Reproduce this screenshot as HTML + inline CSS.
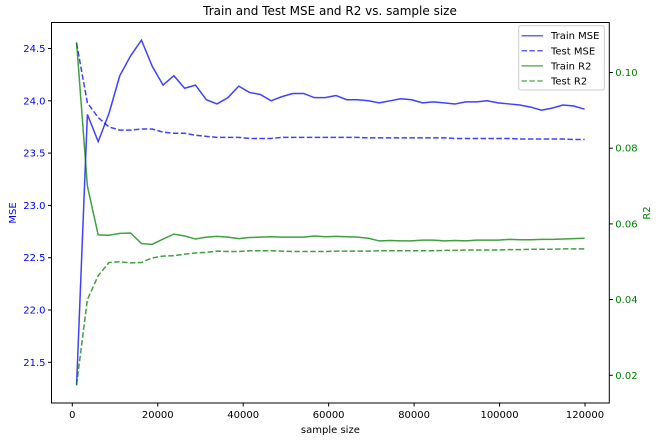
<!DOCTYPE html>
<html><head><meta charset="utf-8"><style>
body{margin:0;background:#fff}
svg{font-family:"DejaVu Sans","Liberation Sans",sans-serif;display:block}
</style></head><body>
<svg id="chart" width="658" height="441">
<text x="330" y="15" text-anchor="middle" font-size="12" fill="#000">Train and Test MSE and R2 vs. sample size</text>
<g id="marks"></g>
<g id="axes"></g>
</svg>
<script>
const trainMSE=[21.28,23.87,23.61,23.88,24.24,24.43,24.58,24.33,24.15,24.24,24.12,24.15,24.01,23.97,24.03,24.14,24.08,24.06,24.00,24.04,24.07,24.07,24.03,24.03,24.05,24.01,24.01,24.00,23.98,24.00,24.02,24.01,23.98,23.99,23.98,23.97,23.99,23.99,24.00,23.98,23.97,23.96,23.94,23.91,23.93,23.96,23.95,23.92];
const testMSE=[24.55,23.98,23.84,23.75,23.72,23.72,23.73,23.73,23.70,23.69,23.69,23.67,23.66,23.65,23.65,23.65,23.64,23.64,23.64,23.65,23.65,23.65,23.65,23.65,23.65,23.65,23.65,23.645,23.645,23.645,23.645,23.645,23.645,23.645,23.645,23.64,23.64,23.64,23.64,23.64,23.64,23.635,23.635,23.635,23.635,23.635,23.63,23.63];
const trainR2=[0.108,0.070,0.0571,0.0570,0.0575,0.0576,0.0548,0.0546,0.0560,0.0573,0.0568,0.0560,0.0565,0.0567,0.0565,0.0561,0.0564,0.0565,0.0566,0.0565,0.0565,0.0565,0.0568,0.0566,0.0567,0.0566,0.0565,0.0562,0.0555,0.0556,0.0555,0.0555,0.0557,0.0557,0.0555,0.0556,0.0555,0.0557,0.0557,0.0557,0.0559,0.0558,0.0558,0.0559,0.0559,0.0560,0.0561,0.0562];
const testR2=[0.0175,0.040,0.0463,0.0498,0.0500,0.0497,0.0498,0.0510,0.0515,0.0516,0.0520,0.0523,0.0525,0.0528,0.0527,0.0527,0.0529,0.0529,0.0529,0.0528,0.0527,0.0527,0.0527,0.0527,0.0528,0.0528,0.0528,0.0528,0.0529,0.0529,0.0529,0.0529,0.0529,0.0529,0.0530,0.0530,0.0531,0.0531,0.0531,0.0531,0.0532,0.0532,0.0533,0.0533,0.0533,0.0534,0.0534,0.0534];
const sampleSizes=trainMSE.map((_,i)=>1000+i*2530);
const xTicks=[0,20000,40000,60000,80000,100000,120000];
const yLeftTicks=[21.5,22.0,22.5,23.0,23.5,24.0,24.5];
const yRightTicks=[0.02,0.04,0.06,0.08,0.10];

const L=51.5,R=609.3,T=22.5,B=403;
const xS=v=>72.3+v/20000*85.45;
const yL=v=>362.3-(v-21.5)*104.6;
const yR=v=>375.3-(v-0.02)/0.02*75.7;
const NS="http://www.w3.org/2000/svg";
const marks=document.getElementById('marks'),axes=document.getElementById('axes');
function mk(tag,attrs,parent,text){const e=document.createElementNS(NS,tag);for(const k in attrs)e.setAttribute(k,attrs[k]);if(text!==undefined)e.textContent=text;parent.appendChild(e);return e;}

function line(data,ys,color,dash,name){
  const d=data.map((v,i)=>(i?'L':'M')+xS(sampleSizes[i]).toFixed(2)+' '+ys(v).toFixed(2)).join(' ');
  const p=mk('path',{d:d,fill:'none',stroke:color,'stroke-width':1.5,'stroke-opacity':0.75,'stroke-dasharray':dash||'none'},marks);
  
  
}
line(trainMSE,yL,'#0000ff',null,'train-mse-line');
line(testMSE,yL,'#0000ff','5.5,2.4','test-mse-line');
line(trainR2,yR,'#008000',null,'train-r2-line');
line(testR2,yR,'#008000','5.5,2.4','test-r2-line');

const frame=mk('path',{d:`M${L} ${T} H${R} V${B} H${L} Z`,fill:'none',stroke:'#000','stroke-width':1},axes);



xTicks.forEach(t=>{const x=xS(t);
  mk('line',{x1:x,x2:x,y1:B,y2:B+3.5,stroke:'#000'},axes);
  const tx=mk('text',{x:x,y:B+15,'text-anchor':'middle','font-size':10,fill:'#000'},axes,String(t));
  
  
});
yLeftTicks.forEach(t=>{const y=yL(t);
  mk('line',{x1:L-3.5,x2:L,y1:y,y2:y,stroke:'#000'},axes);
  const tx=mk('text',{x:L-6,y:y+3.5,'text-anchor':'end','font-size':10,fill:'#0000ff'},axes,t.toFixed(1));
  
  
});
yRightTicks.forEach(t=>{const y=yR(t);
  mk('line',{x1:R,x2:R+3.5,y1:y,y2:y,stroke:'#000'},axes);
  const tx=mk('text',{x:R+6,y:y+3.5,'text-anchor':'start','font-size':10,fill:'#008000'},axes,t.toFixed(2));
  
  
});
const xt=mk('text',{x:(L+R)/2,y:433,'text-anchor':'middle','font-size':10,fill:'#000'},axes,'sample size');


const yt=mk('text',{x:16,y:213,'text-anchor':'middle','font-size':10,fill:'#0000ff',transform:'rotate(-90 16 213)'},axes,'MSE');


const yt2=mk('text',{x:650,y:213,'text-anchor':'middle','font-size':10,fill:'#008000',transform:'rotate(-90 650 213)'},axes,'R2');



const lg=mk('g',{},axes);


mk('rect',{x:518.7,y:25.7,width:85.6,height:64.3,rx:2,fill:'#fff','fill-opacity':0.8,stroke:'#ccc'},lg);
const items=[['Train MSE','#0000ff',null],['Test MSE','#0000ff','5.5,2.4'],['Train R2','#008000',null],['Test R2','#008000','5.5,2.4']];
items.forEach((it,i)=>{const y=35.7+i*15.1;
  const g=mk('g',{},lg);
  
  
  mk('line',{x1:521.5,x2:543,y1:y,y2:y,stroke:it[1],'stroke-width':1.5,'stroke-opacity':0.6,'stroke-dasharray':it[2]||'none'},g);
  mk('text',{x:551,y:y+3.5,'font-size':10,fill:'#000'},g,it[0]);
});
</script>
</body></html>
